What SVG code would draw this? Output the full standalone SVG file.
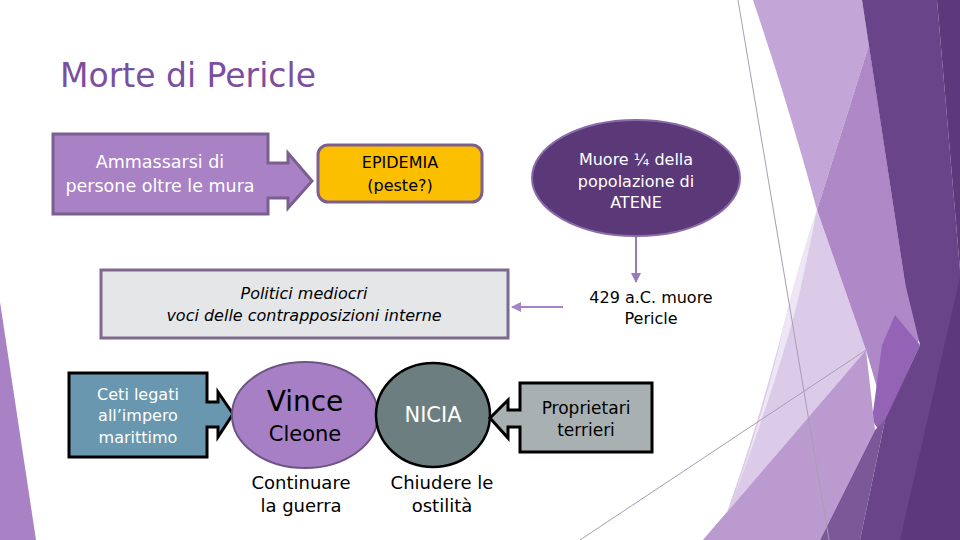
<svg xmlns="http://www.w3.org/2000/svg" width="960" height="540" viewBox="0 0 960 540">
<defs>
<style>
text{font-family:"DejaVu Sans","Liberation Sans",sans-serif;text-anchor:middle}
.w{fill:#ffffff}
.k{fill:#000000}
.it{font-style:italic}
.conn{fill:none;stroke-width:2}
</style>
<marker id="ahL" viewBox="0 0 10 10" refX="9" refY="5" markerWidth="5" markerHeight="5" orient="auto">
<path d="M0,0 L10,5 L0,10 z" fill="#a583c4"/>
</marker>
<marker id="ahD" viewBox="0 0 10 10" refX="9" refY="5" markerWidth="5" markerHeight="5" orient="auto">
<path d="M0,0 L10,5 L0,10 z" fill="#9a7ab8"/>
</marker>
</defs>
<rect width="960" height="540" fill="#ffffff"/>
<g id="decor">
<polygon points="0,302 0,540 36,540" fill="#a981c5"/>
<path d="M753,0 L862,0 L869,45 L817,210 Q790,110 753,0 z" fill="#c3a5d7"/>
<path d="M817,210 L866,350 L703,540 L717,540 C735,490 760,420 785,320 Q800,260 817,210 z" fill="#dccbe8"/>
<path d="M817,210 Q800,260 785,320 C770,390 750,450 733,500 C755,440 780,370 798,300 Q808,255 817,210 z" fill="#eee6f4"/>
<polygon points="869,45 905,283 922,335 882,405 866,350 817,210" fill="#af88c8"/>
<polygon points="895,315 920,345 880,432 872,420 882,345" fill="#9563b6"/>
<polygon points="703,540 866,350 875,430 820,540" fill="#bb9ad0"/>
<polygon points="820,540 875,430 885,420 860,540" fill="#7b5998"/>
<polygon points="862,0 937,0 960,270 960,540 860,540 885,420 920,345 905,283" fill="#6a4489"/>
<polygon points="937,0 960,0 960,270" fill="#5d387b"/>
<polygon points="960,277 960,540 900,540" fill="#5d387b"/>
<line x1="738" y1="0" x2="829" y2="540" stroke="#a89cb4" stroke-width="1"/>
<line x1="580" y1="540" x2="866" y2="350" stroke="#a89cb4" stroke-width="1"/>
</g>
<text x="60" y="87" style="text-anchor:start;font-size:33px;fill:#7b4fa0">Morte di Pericle</text>
<g id="connectors">
<line class="conn" x1="636" y1="236" x2="636" y2="282" stroke="#9a7ab8" marker-end="url(#ahD)"/>
<line class="conn" x1="563" y1="307" x2="512" y2="307" stroke="#a583c4" marker-end="url(#ahL)"/>
</g>
<g id="n-ammassarsi">
<path d="M53,134 H268 V163 H288 V153 L312,181 L288,208 V198 H268 V214 H53 z" fill="#a981c5" stroke="#7a6090" stroke-width="3" stroke-linejoin="miter"/>
<text x="160" y="168" class="w" style="font-size:17.5px">Ammassarsi di</text>
<text x="160" y="192" class="w" style="font-size:17.5px">persone oltre le mura</text>
</g>
<g id="n-epidemia">
<rect x="318" y="145" width="164" height="57" rx="10" fill="#fcbf00" stroke="#7a6090" stroke-width="3"/>
<text x="400" y="168" class="k" style="font-size:16px">EPIDEMIA</text>
<text x="400" y="191" class="k" style="font-size:16px">(peste?)</text>
</g>
<g id="n-muore">
<ellipse cx="636" cy="178" rx="104" ry="58" fill="#5b3979" stroke="#8a6aa8" stroke-width="2"/>
<text x="636" y="165" class="w" style="font-size:16px">Muore ¼ della</text>
<text x="636" y="187" class="w" style="font-size:16px">popolazione di</text>
<text x="636" y="208" class="w" style="font-size:16px">ATENE</text>
</g>
<g id="n-429">
<text x="651" y="303" class="k" style="font-size:16px">429 a.C. muore</text>
<text x="651" y="324" class="k" style="font-size:16px">Pericle</text>
</g>
<g id="n-politici">
<rect x="101" y="270" width="407" height="68" fill="#e5e6e8" stroke="#80688f" stroke-width="3"/>
<text x="304" y="299" class="k it" style="font-size:16px">Politici mediocri</text>
<text x="304" y="321" class="k it" style="font-size:16px">voci delle contrapposizioni interne</text>
</g>
<g id="n-ceti">
<path d="M69,373 H207 V402 H218 V392 L233,414 L218,437 V427 H207 V457 H69 z" fill="#6a97b0" stroke="#000000" stroke-width="3"/>
<text x="138" y="400" class="w" style="font-size:16px">Ceti legati</text>
<text x="138" y="421" class="w" style="font-size:16px">all’impero</text>
<text x="138" y="443" class="w" style="font-size:16px">marittimo</text>
</g>
<g id="n-vince">
<ellipse cx="305" cy="415" rx="73" ry="53" fill="#a67fc4" stroke="#6e5485" stroke-width="2"/>
<text x="305" y="411" class="k" style="font-size:28px">Vince</text>
<text x="305" y="441" class="k" style="font-size:21px">Cleone</text>
</g>
<g id="n-nicia">
<ellipse cx="433" cy="415" rx="57" ry="52" fill="#6c7e7f" stroke="#000000" stroke-width="2.5"/>
<text x="433" y="422" class="w" style="font-size:21px">NICIA</text>
</g>
<g id="n-proprietari">
<path d="M652,383 H520 V410 H508 V400 L490,418 L508,438 V427 H520 V452 H652 z" fill="#a9b0b1" stroke="#000000" stroke-width="3"/>
<text x="586" y="414" class="k" style="font-size:17px">Proprietari</text>
<text x="586" y="436" class="k" style="font-size:17px">terrieri</text>
</g>
<g id="t-continuare">
<text x="301" y="489" class="k" style="font-size:18px">Continuare</text>
<text x="301" y="512" class="k" style="font-size:18px">la guerra</text>
</g>
<g id="t-chiudere">
<text x="442" y="489" class="k" style="font-size:18px">Chiudere le</text>
<text x="442" y="512" class="k" style="font-size:18px">ostilità</text>
</g>
</svg>
